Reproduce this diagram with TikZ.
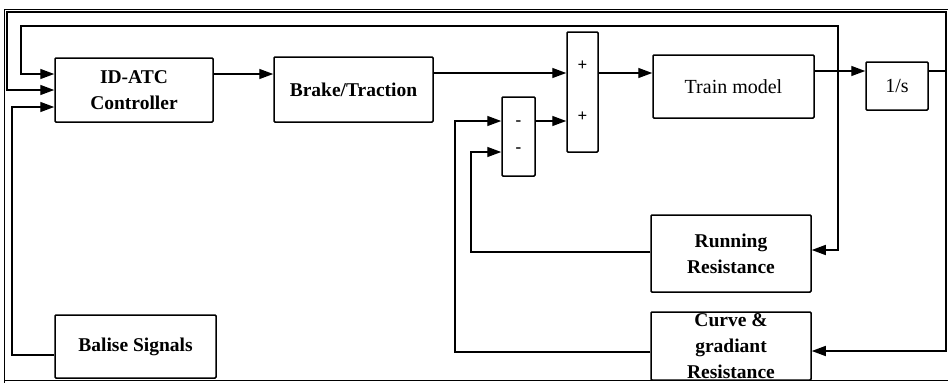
\documentclass[tikz,border=0pt]{standalone}
\usepackage{fontspec}
\setmainfont{Liberation Serif}
\usetikzlibrary{arrows.meta,calc}
\begin{document}
\begin{tikzpicture}[x=1pt,y=-1pt,
  blk/.style={draw,line width=1.5pt,rounded corners=1pt,inner sep=0pt,align=center,
              font=\fontsize{19.5}{26}\selectfont\bfseries},
  blkr/.style={blk,font=\fontsize{20}{26}\selectfont},
  wire/.style={line width=1.4pt},
  arr/.style={wire,-{Triangle[length=14pt,width=10pt]}},
  sign/.style={font=\fontsize{17}{17}\selectfont\bfseries,inner sep=0pt},
  frame/.style={line width=1pt}]
\useasboundingbox (0,0) rectangle (948,383);
% frame
\draw[frame] (948,9) -- (4,9) -- (4,383);
\draw[frame] (4,380) -- (948,380);
% blocks
\node[blk,minimum width=158pt,minimum height=64pt] (ctrl) at (134,90) {ID-ATC\\Controller};
\node[blk,minimum width=159pt,minimum height=65pt] (brake) at (353.5,89.5) {Brake/Traction};
\node[blk,minimum width=31pt,minimum height=120pt] (sumA) at (582.5,92) {};
\node[blk,minimum width=33pt,minimum height=79pt] (sumB) at (518.5,136.5) {};
\node[blkr,minimum width=161pt,minimum height=63pt] (train) at (733.5,86.5) {Train model};
\node[blkr,minimum width=62pt,minimum height=48pt] (integ) at (897,86) {1/s};
\node[blk,minimum width=160pt,minimum height=77pt] (run) at (731,253.5) {Running\\Resistance};
\node[blk,minimum width=160pt,minimum height=68pt] (curve) at (731,346) {Curve \&\\gradiant\\Resistance};
\node[blk,minimum width=161pt,minimum height=63pt] (balise) at (135.5,346.5) {Balise Signals};
% signs
\node[sign] (pA) at (582.5,66) {+};
\node[sign] (pB) at (582.5,117) {+};
\node[sign] (mA) at (518.5,123) {-};
\node[sign] (mB) at (518.5,150) {-};
% level coordinates
\coordinate (fA) at (0,74);
\coordinate (fB) at (0,73);
\coordinate (fC) at (0,71);
\coordinate (in2) at (0,90);
\coordinate (in3) at (0,107);
\coordinate (sB1) at (0,121);
\coordinate (sB2) at (0,152);
\coordinate (ry) at (0,250);
\coordinate (cy) at (0,351);
\coordinate (br) at (838,71);
\coordinate (vT) at (838,26);
\coordinate (vL) at (21,26);
\coordinate (pR) at (946,12);
\coordinate (pL) at (7,12);
\coordinate (rx) at (471,252);
\coordinate (cx) at (455,352);
\coordinate (bx) at (12,355);
% forward path
\draw[arr] (ctrl.east |- fA) -- (brake.west |- fA);
\draw[arr] (brake.east |- fB) -- (sumA.west |- fB);
\draw[arr] (sumA.east |- fB) -- (train.west |- fB);
\draw[arr] (train.east |- fC) -- (integ.west |- fC);
% position feedback
\draw[arr] (integ.east |- fC) -| (pR) -- (pL) |- (ctrl.west |- in2);
\draw[arr] (pR |- fC) |- (curve.east |- cy);
% speed feedback
\draw[arr] (br) -- (vT) -- (vL) |- (ctrl.west |- fA);
\draw[arr] (br) |- (run.east |- ry);
% resistances
\draw[arr] (run.west |- rx) -- (rx) |- (sumB.west |- sB2);
\draw[arr] (curve.west |- cx) -- (cx) |- (sumB.west |- sB1);
\draw[arr] (sumB.east |- sB1) -- (sumA.west |- sB1);
% balise
\draw[arr] (balise.west |- bx) -- (bx) |- (ctrl.west |- in3);
\end{tikzpicture}
\end{document}
